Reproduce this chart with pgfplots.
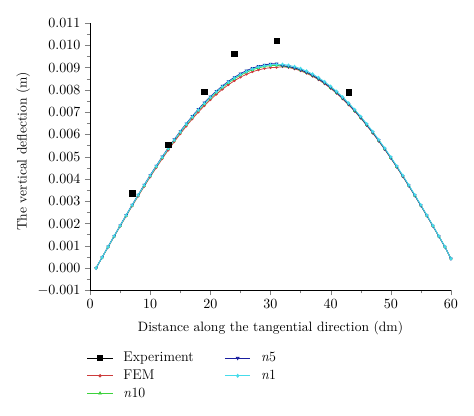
\documentclass[border=0pt]{standalone}
\usepackage{pgfplots}
\usepackage{pgfplotstable}
\pgfplotsset{compat=1.18}
\definecolor{femred}{RGB}{205,60,60}
\definecolor{ngreen}{RGB}{60,210,60}
\definecolor{nblue}{RGB}{25,30,160}
\definecolor{ncyan}{RGB}{70,220,235}
\pgfplotstableread{
x fem n10 n5 n1
1 0 0 0 0
2 0.000471 0.000476 0.000480 0.000478
3 0.000941 0.000951 0.000959 0.000955
4 0.001410 0.001424 0.001435 0.001430
5 0.001873 0.001892 0.001907 0.001900
6 0.002331 0.002355 0.002374 0.002364
7 0.002784 0.002812 0.002834 0.002823
8 0.003228 0.003261 0.003287 0.003274
9 0.003664 0.003701 0.003731 0.003716
10 0.004090 0.004131 0.004164 0.004148
11 0.004505 0.004550 0.004586 0.004568
12 0.004906 0.004956 0.004996 0.004976
13 0.005296 0.005349 0.005392 0.005370
14 0.005670 0.005727 0.005773 0.005750
15 0.006028 0.006089 0.006138 0.006113
16 0.006371 0.006435 0.006486 0.006461
17 0.006695 0.006763 0.006817 0.006790
18 0.007001 0.007072 0.007129 0.007100
19 0.007288 0.007362 0.007421 0.007391
20 0.007556 0.007632 0.007693 0.007663
21 0.007802 0.007881 0.007944 0.007913
22 0.008027 0.008108 0.008173 0.008140
23 0.008230 0.008313 0.008380 0.008346
24 0.008411 0.008496 0.008564 0.008530
25 0.008568 0.008655 0.008724 0.008690
26 0.008702 0.008790 0.008860 0.008825
27 0.008812 0.008901 0.008972 0.008937
28 0.008898 0.008988 0.009060 0.009024
29 0.008960 0.009050 0.009122 0.009086
30 0.008997 0.009088 0.009161 0.009124
31 0.009009 0.009100 0.009173 0.009136
32 0.009043 0.009070 0.009088 0.009143
33 0.009005 0.009032 0.009050 0.009104
34 0.008943 0.008970 0.008988 0.009042
35 0.008856 0.008883 0.008901 0.008954
36 0.008746 0.008772 0.008790 0.008843
37 0.008612 0.008638 0.008655 0.008707
38 0.008454 0.008479 0.008496 0.008547
39 0.008271 0.008296 0.008313 0.008363
40 0.008067 0.008092 0.008108 0.008157
41 0.007842 0.007865 0.007881 0.007928
42 0.007594 0.007617 0.007632 0.007678
43 0.007325 0.007347 0.007362 0.007406
44 0.007037 0.007058 0.007072 0.007114
45 0.006729 0.006749 0.006763 0.006804
46 0.006403 0.006422 0.006435 0.006474
47 0.006059 0.006077 0.006089 0.006126
48 0.005698 0.005716 0.005727 0.005761
49 0.005322 0.005338 0.005349 0.005381
50 0.004931 0.004946 0.004956 0.004986
51 0.004527 0.004541 0.004550 0.004577
52 0.004110 0.004123 0.004131 0.004156
53 0.003682 0.003694 0.003701 0.003723
54 0.003245 0.003254 0.003261 0.003281
55 0.002798 0.002806 0.002812 0.002829
56 0.002343 0.002350 0.002355 0.002369
57 0.001883 0.001888 0.001892 0.001903
58 0.001417 0.001421 0.001424 0.001433
59 0.000946 0.000949 0.000951 0.000957
60 0.000414 0.000415 0.000416 0.000419
}\curves
\pgfplotstableread{
x y
7 0.00335
13 0.00553
19 0.00791
24 0.00962
31 0.01020
43 0.00789
}\experiment
\begin{document}
\begin{tikzpicture}
\useasboundingbox (-70.3pt,-97.7pt) rectangle (299.7pt,226.6pt);
\begin{axis}[
  scale only axis,
  width=281.7pt, height=208.6pt,
  xmin=0, xmax=60, ymin=-0.001, ymax=0.011,
  axis x line*=bottom, axis y line*=left,
  axis line style={-},
  tick align=outside,
  major tick length=4pt, minor tick length=2.5pt,
  xtick={0,10,20,30,40,50,60},
  minor x tick num=1,
  ytick={-0.001,0,0.001,0.002,0.003,0.004,0.005,0.006,0.007,0.008,0.009,0.010,0.011},
  minor y tick num=1,
  scaled y ticks=false,
  yticklabel style={/pgf/number format/.cd, fixed, fixed zerofill, precision=3},
  tick label style={font=\fontsize{11}{13}\selectfont},
  xlabel={Distance along the tangential direction (dm)},
  ylabel={The vertical deflection (m)},
  label style={font=\fontsize{10.6}{13}\selectfont},
  xlabel style={at={(axis description cs:0.5,-0.1)}, anchor=north},
  ylabel style={at={(axis description cs:-0.185,0.52)}, anchor=center},
  legend style={draw=none, fill=none, at={(axis description cs:-0.02,-0.212)}, anchor=north west,
    font=\fontsize{11}{13}\selectfont, row sep=0.8pt, column sep=6pt,
    /tikz/every even column/.append style={column sep=22pt}},
  legend cell align=left,
  legend columns=2,
  legend image code/.code={\draw[mark repeat=2,mark phase=2,#1] plot coordinates {(0cm,0cm) (0.35cm,0cm) (0.7cm,0cm)};},
]
\addplot[femred, line width=0.6pt, mark=*, mark size=0.7pt, forget plot] table[x=x,y=fem] {\curves};
\addplot[ngreen, line width=0.6pt, mark=triangle*, mark size=0.9pt, forget plot] table[x=x,y=n10] {\curves};
\addplot[nblue, line width=0.7pt, mark=triangle*, mark options={rotate=180}, mark size=0.9pt, forget plot] table[x=x,y=n5] {\curves};
\addplot[ncyan, line width=0.7pt, mark=diamond*, mark size=1pt, forget plot] table[x=x,y=n1] {\curves};
\addplot[black, only marks, mark=square*, mark size=2.1pt, forget plot] table[x=x,y=y] {\experiment};
\addlegendimage{black, line width=0.6pt, mark=square*, mark size=2.1pt}
\addlegendentry{Experiment}
\addlegendimage{nblue, line width=0.6pt, mark=triangle*, mark options={rotate=180}, mark size=1.2pt}
\addlegendentry{\textit{n}5}
\addlegendimage{femred, line width=0.6pt, mark=*, mark size=1pt}
\addlegendentry{FEM}
\addlegendimage{ncyan, line width=0.6pt, mark=diamond*, mark size=1.2pt}
\addlegendentry{\textit{n}1}
\addlegendimage{ngreen, line width=0.6pt, mark=triangle*, mark size=1.2pt}
\addlegendentry{\textit{n}10}
\end{axis}
\end{tikzpicture}
\end{document}
